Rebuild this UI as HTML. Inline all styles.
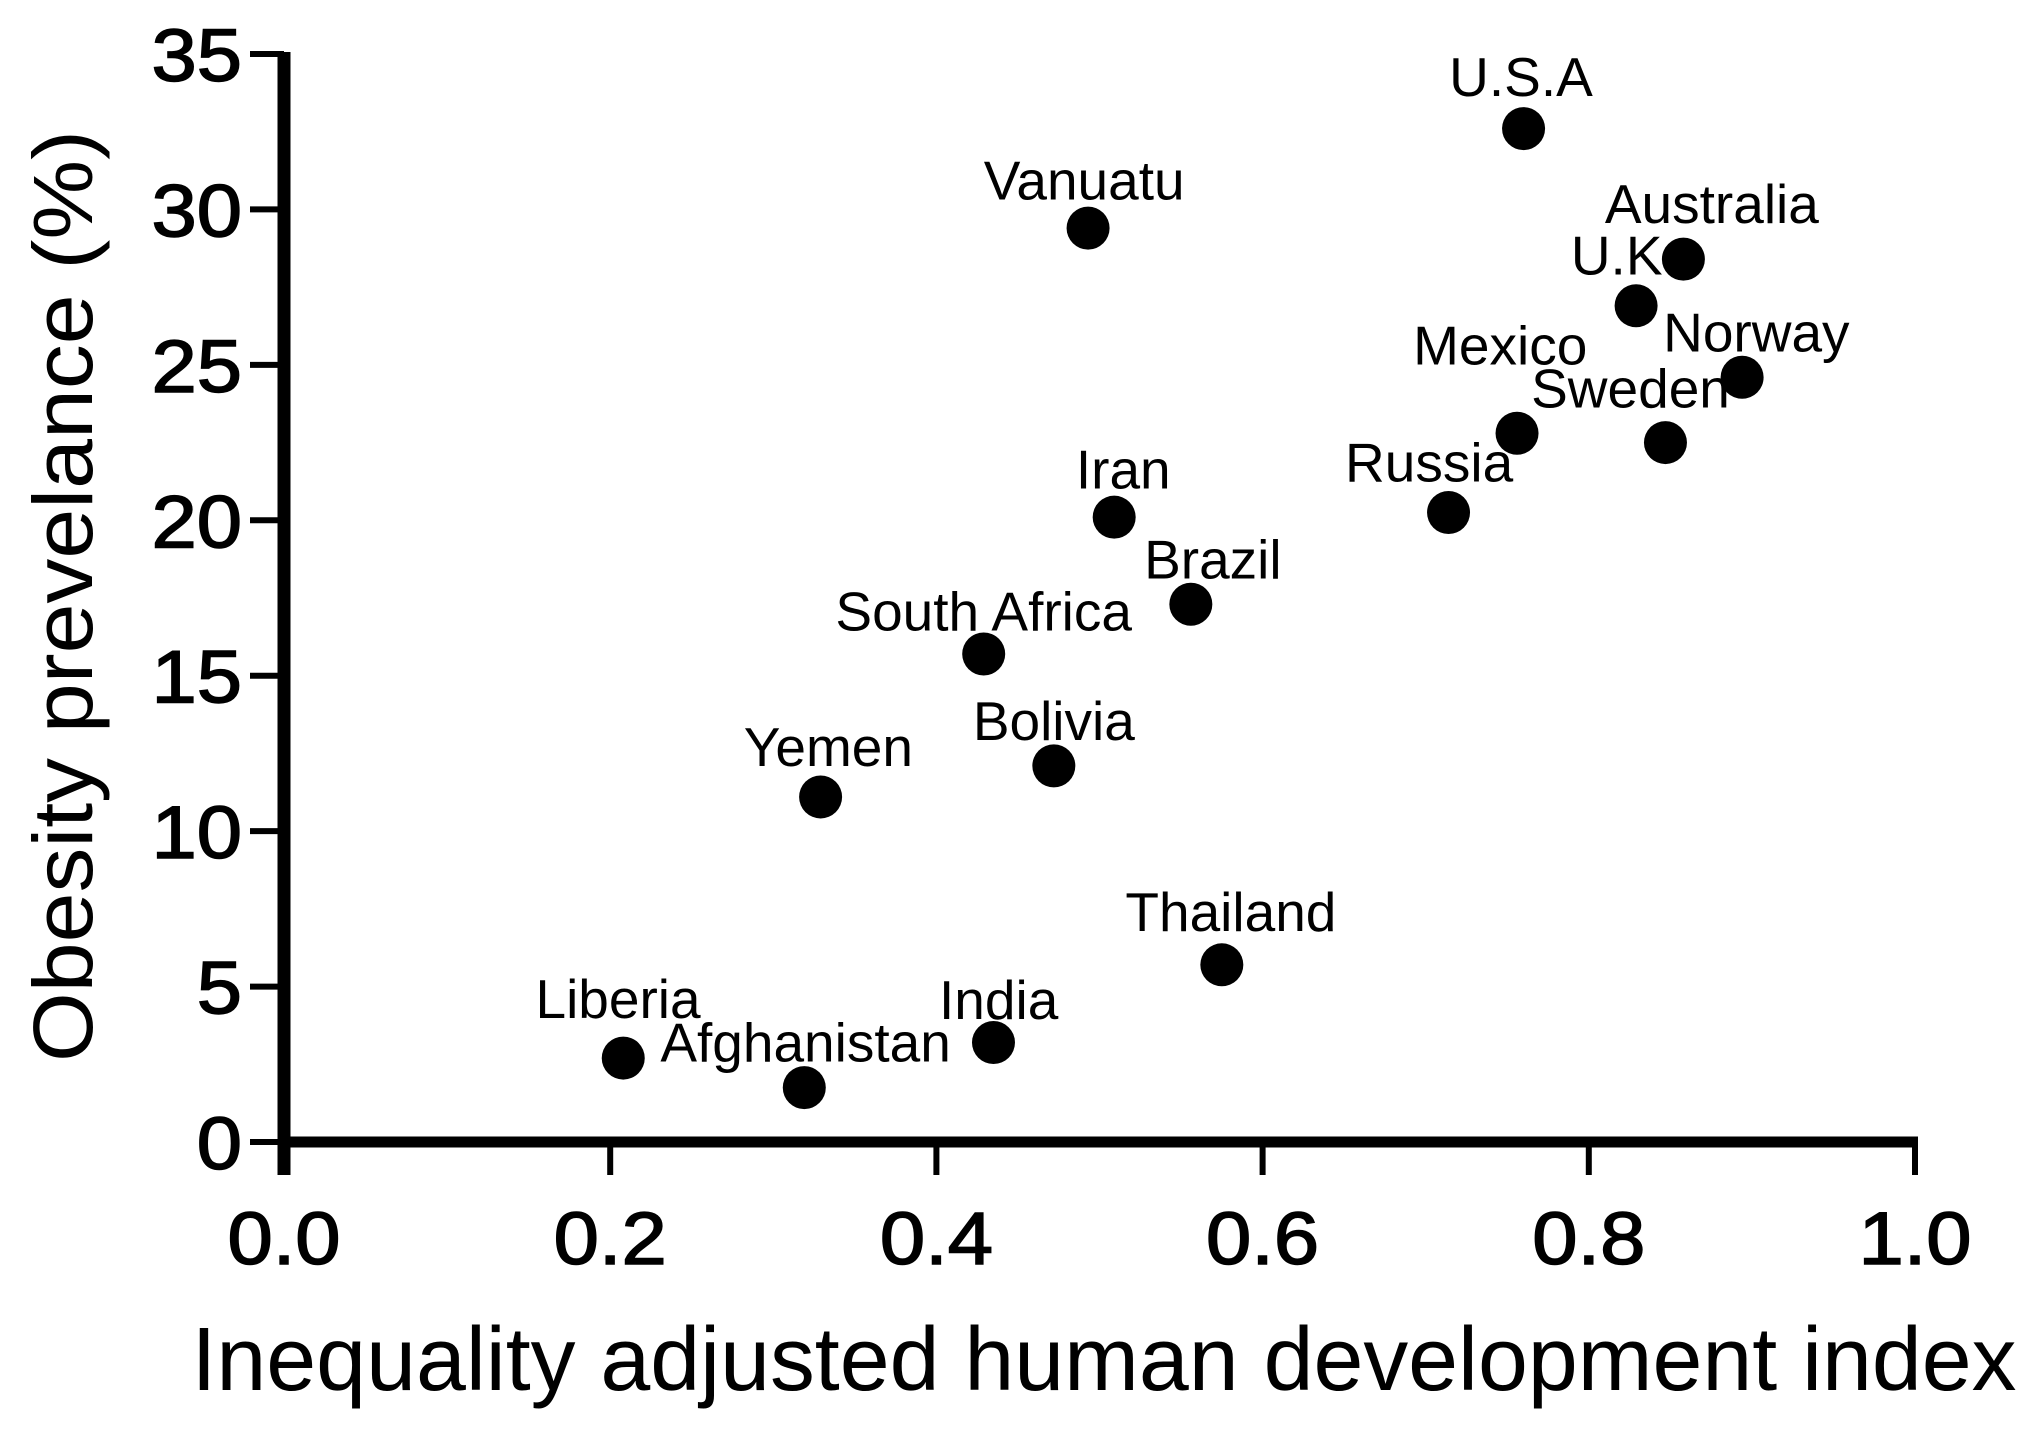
<!DOCTYPE html>
<html><head><meta charset="utf-8"><style>
html,body{margin:0;padding:0;background:#fff}
svg{display:block}
text{font-family:"Liberation Sans",Arial,sans-serif;fill:#000}
</style></head><body>
<svg id="chart" width="2030" height="1434" viewBox="0 0 2030 1434"></svg>
<script>
const countries=["U.S.A","Vanuatu","Australia","U.K","Norway","Sweden","Mexico","Russia","Iran","Brazil","South Africa","Bolivia","Yemen","Thailand","India","Liberia","Afghanistan"];
const ihdi=[0.760,0.493,0.858,0.829,0.894,0.847,0.756,0.714,0.509,0.556,0.429,0.472,0.329,0.575,0.435,0.208,0.319];
const obesity=[32.6,29.4,28.4,26.9,24.6,22.5,22.8,20.25,20.1,17.3,15.7,12.1,11.1,5.7,3.2,2.7,1.75];
const labelDx=[-2,-3,22,-15,11,-27,-13,-15,7,17,0,0,6,7,4,-4,1];
const labelDy=[-25,-22,-28,-24,-20,-27,-53,-24,-22,-20,-18,-20,-24,-26,-18,-31,-20];
const xTicks=[0,0.2,0.4,0.6,0.8,1.0];
const xTickLabels=["0.0","0.2","0.4","0.6","0.8","1.0"];
const yTicks=[0,5,10,15,20,25,30,35];
const yTickLabels=["0","5","10","15","20","25","30","35"];

const X0=284,X1=1915,Y0=1142,Y1=54;
const sx=v=>X0+(v-0)/(1-0)*(X1-X0);
const sy=v=>Y0-(v-0)/(35-0)*(Y0-Y1);
const NS="http://www.w3.org/2000/svg";
const svg=document.getElementById('chart');
function mk(tag,attrs,parent){const e=document.createElementNS(NS,tag);for(const k in attrs)e.setAttribute(k,attrs[k]);(parent||svg).appendChild(e);return e;}

const ya=mk('line',{x1:X0,y1:Y1-2,x2:X0,y2:Y0+33,stroke:'#000','stroke-width':13});


const xa=mk('line',{x1:X0-6,y1:Y0,x2:X1+3,y2:Y0,stroke:'#000','stroke-width':11});



yTicks.forEach((v,i)=>{
  const t=mk('line',{x1:X0-34,y1:sy(v),x2:X0,y2:sy(v),stroke:'#000','stroke-width':6});
  
  
  const l=mk('text',{x:0,y:0,'font-size':74,'text-anchor':'end',stroke:'#000','stroke-width':1.5,transform:`translate(${X0-42},${sy(v)+27}) scale(1.1,1)`});
  l.textContent=yTickLabels[i];
  
  
});
xTicks.forEach((v,i)=>{
  const t=mk('line',{x1:sx(v),y1:Y0,x2:sx(v),y2:Y0+33,stroke:'#000','stroke-width':6});
  
  
  const l=mk('text',{x:0,y:0,'font-size':74,'text-anchor':'middle',stroke:'#000','stroke-width':1.5,transform:`translate(${sx(v)},${Y0+122}) scale(1.1,1)`});
  l.textContent=xTickLabels[i];
  
  
});

const xt=mk('text',{x:1104,y:1390,'font-size':90,'text-anchor':'middle',textLength:1825,lengthAdjust:'spacingAndGlyphs'});
xt.textContent='Inequality adjusted human development index';


const yt=mk('text',{x:0,y:0,'font-size':84,'text-anchor':'middle',textLength:932,lengthAdjust:'spacingAndGlyphs',transform:'translate(92,596) rotate(-90)'});
yt.textContent='Obesity prevelance (%)';



countries.forEach((c,i)=>{
  const px=sx(ihdi[i]),py=sy(obesity[i]);
  const p=mk('circle',{cx:px,cy:py,r:21.5,fill:'#000'});
  
  
  const l=mk('text',{x:px+labelDx[i]*1.2946,y:py+labelDy[i]*1.2946,'font-size':55,'text-anchor':'middle'});
  l.textContent=c;
  
  
});
</script>
</body></html>
